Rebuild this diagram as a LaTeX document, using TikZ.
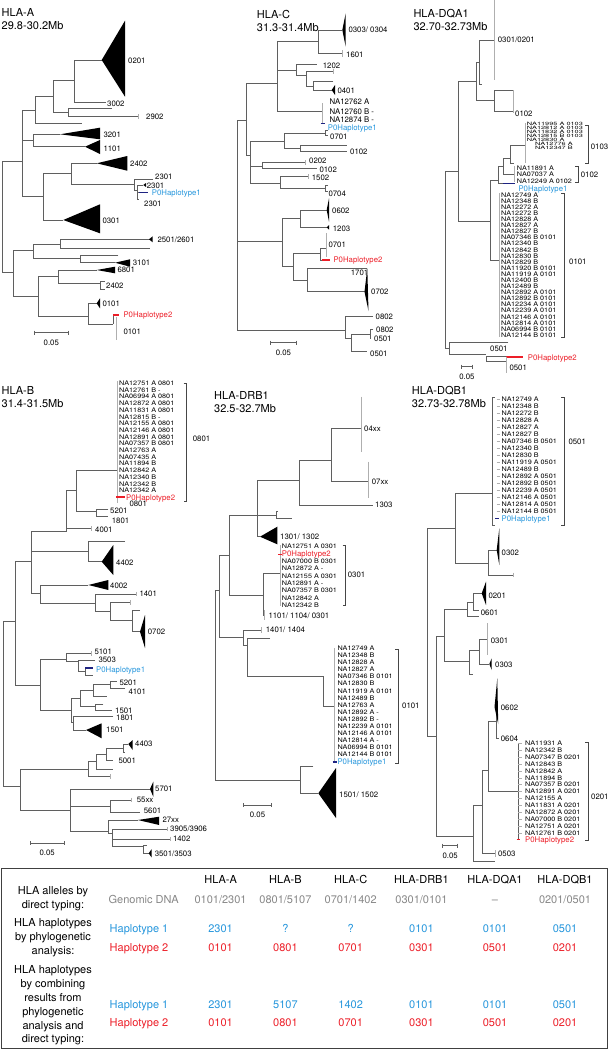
\documentclass[tikz,border=0pt]{standalone}
\usepackage{fontspec}
\setmainfont{TeX Gyre Heros}
\newfontfamily\lstfam[FakeStretch=1.15]{TeX Gyre Heros}
\newfontfamily\sqfam[FakeStretch=1.6]{TeX Gyre Heros}

\definecolor{treegray}{RGB}{95,95,95}
\definecolor{tickgray}{RGB}{175,175,175}
\definecolor{brackgray}{RGB}{70,70,70}
\definecolor{hapblue}{RGB}{38,150,220}
\definecolor{hapnavy}{RGB}{30,35,130}
\definecolor{hapred}{RGB}{236,30,40}
\definecolor{dnagray}{RGB}{135,135,135}

\tikzset{
  br/.style={draw=treegray, line width=0.6pt},
  tk/.style={draw=tickgray, line width=0.6pt},
  brk/.style={draw=brackgray, line width=0.5pt},
  clade/.style={fill=black},
  lbl/.style={font=\fontsize{7.8}{9}\selectfont, inner sep=0pt, anchor=west, text height=5.6pt, text depth=0pt},
  lst/.style={font=\lstfam\fontsize{6.3}{7}\selectfont, inner sep=0pt, anchor=west, text height=4.5pt, text depth=0pt},
  sq/.style={font=\sqfam\fontsize{4.6}{4}\selectfont, inner sep=0pt, anchor=west, text height=3.3pt, text depth=0pt},
  ttl/.style={font=\fontsize{11}{13}\selectfont, align=left, inner sep=0pt, anchor=north west},
  tabtxt/.style={font=\fontsize{11}{13.9}\selectfont, inner sep=0pt, text height=7.9pt, text depth=0pt},
  rowlbl/.style={font=\fontsize{11}{13.9}\selectfont, inner sep=0pt, align=center},
  bbar/.style={draw=hapnavy, line width=1.6pt},
  rbar/.style={draw=hapred, line width=1.6pt}
}

\newcommand{\cladetri}[5]{\fill[clade] (#1,#2) -- (#3,#4) -- (#3,#5) -- cycle;}
\newcommand{\listbrak}[3]{\draw[brk] ({#1-3},#2) -- (#1,#2) -- (#1,#3) -- ({#1-3},#3);}
\newcommand{\distbar}[4]{\draw[br] (#1,#3-2) -- (#1,#3+2) (#1,#3) -- (#2,#3) (#2,#3-2) -- (#2,#3+2);
  \node[lbl, anchor=center] (#4) at ({(#1+#2)/2},#3+9.5) {0.05};}

\begin{document}
\begin{tikzpicture}[x=1pt, y=-1pt]

        \useasboundingbox (0,0) rectangle (609,1050);

        \node[ttl] (aTitle) at (1.5,8) {HLA-A\\29.8-30.2Mb};

        \draw[br] (101.7,60) -| (74,102.3) -- (106,102.3);
        \cladetri{101.7}{60}{125}{20.7}{96.7}
        \node[lbl] (a0201) at (128,61) {0201};
        \node[lbl] (a3002) at (107,104) {3002};

        \draw[br] (111.7,108) -| (68.3,116.7) -- (138.3,116.7);
        \draw[tk] (138.3,114.3) -- (138.3,119.1);
        \node[lbl] (a2902) at (146,117) {2902};
        \draw[br] (74,80) -| (53.3,112.3) -- (68.3,112.3);
        \draw[br] (53.3,96.7) -| (35,123.3) -- (81.7,123.3);

        \draw[br] (60,134.3) -| (33.3,146.7) -- (85,146.7);
        \cladetri{60}{134.3}{100}{127.7}{139.3}
        \cladetri{85}{146.7}{100}{140}{154}
        \node[lbl] (a3201) at (103.3,134.3) {3201};
        \node[lbl] (a1101) at (103.3,148.3) {1101};
        \draw[br] (35,110) -| (22.7,196.7) -- (43.3,196.7);
        \draw[br] (22.7,140.5) -- (33.3,140.5);

        \draw[br] (96.7,163.3) -| (71.7,184.3) -- (134.3,184.3);
        \cladetri{96.7}{163.3}{127.3}{156}{170.7}
        \node[lbl] (a2402) at (130,163.3) {2402};
        \draw[br] (71.7,173.3) -| (43.3,220) -- (63.3,220);
        \cladetri{63.3}{220}{100}{204.3}{233.3}
        \node[lbl] (a0301) at (102.3,220.7) {0301};

        \draw[br] (153.3,179) -| (134.3,190) -- (137.7,190);
        \draw[br] (143.3,185) -| (137.7,199) -- (139.3,199);
        \cladetri{143.3}{185}{146}{183}{187}
        \draw[br] (137.7,192.3) -- (139.3,192.3);
        \draw[bbar] (139.3,192.3) -- (148.3,192.3);
        \node[lbl] (a2301a) at (155,177) {2301};
        \node[lbl] (a2301b) at (146.7,185.5) {2301};
        \node[lbl, text=hapblue] (aHap1) at (151.7,192.3) {P0Haplotype1};
        \node[lbl] (a2301c) at (144,203.3) {2301};

        \draw[br] (22.7,161.7) -| (2.7,272.7) -- (13.3,272.7);
        \draw[br] (33.3,250) -| (13.3,296) -- (38.3,296);
        \draw[br] (60,244) -| (33.3,258.3) -- (80,258.3);
        \draw[br] (150,239.3) -| (60,248.3) -- (150,248.3);
        \cladetri{149}{239.3}{152.7}{236.3}{242.3}
        \node[lbl] (a2501) at (157.3,240) {2501/2601};
        \draw[br] (118.3,255) -| (80,262.7) -- (115,262.7);
        \cladetri{115}{262.7}{130}{259.3}{266.7}
        \node[lbl] (a3101) at (132.7,262.7) {3101};

        \draw[br] (58.3,276) -| (38.3,316.7) -- (88.3,316.7);
        \draw[br] (96.7,270) -| (58.3,283.3) -- (100,283.3);
        \cladetri{96.7}{270}{115}{266.7}{273.3}
        \node[lbl] (a6801) at (117.3,270) {6801};
        \draw[br] (105,281.7) -| (100,289.3) -- (105,289.3);
        \node[lbl] (a2402b) at (106,286) {2402};
        \draw[br] (96.7,303.3) -| (88.3,324) -- (113.3,324);
        \cladetri{96.7}{303.3}{100}{298.3}{308.3}
        \node[lbl] (a0101) at (102.3,303.3) {0101};
        \draw[br] (113.3,315) -- (113.3,324);
        \draw[rbar] (113.3,315) -- (119.3,315);
        \draw[tk] (116.7,316.7) -- (116.7,340);
        \node[lbl, text=hapred] (aHap2) at (123.3,315) {P0Haplotype2};
        \node[lbl] (a0101b) at (123.3,331.7) {0101};

        \distbar{34.3}{68.3}{332.7}{aScale}

        \node[ttl] (cTitle) at (256.7,10) {HLA-C\\31.3-31.4Mb};

        \draw[br] (342.3,30) -| (318.3,53.3) -- (342.7,53.3);
        \cladetri{342.3}{30}{345.7}{13.3}{46.7}
        \draw[tk] (342.7,50) -- (342.7,57);
        \node[lbl] (c0303) at (348.3,30) {0303/ 0304};
        \node[lbl] (c1601) at (346,54.3) {1601};
        \draw[br] (316.7,64.3) -| (296.7,75) -- (306,75);
        \node[lbl] (c1202) at (322.7,65.7) {1202};
        \draw[br] (333.3,71.7) -| (306,86) -- (313.3,86);
        \draw[tk] (333.3,69.3) -- (333.3,74.1);
        \draw[br] (333.3,81.7) -| (313.3,90) -- (331.7,90);
        \cladetri{331.7}{90}{335}{85}{95}
        \node[lbl] (c0401) at (337.3,91) {0401};

        \draw[br] (318.3,41.7) -| (277.3,111.7) -- (322.7,111.7);
        \draw[br] (277.3,70) -- (296.7,70);
        \draw[tk] (322.7,103.3) -- (322.7,123.3);
        \draw[bbar] (320.7,123.3) -- (325,123.3);
        \node[lbl] (cNA1) at (329.3,101.7) {NA12762 A};
        \node[lbl] (cNA2) at (329.3,111.2) {NA12760 B -};
        \node[lbl] (cNA3) at (329.3,119.7) {NA12874 B -};
        \node[lbl, text=hapblue] (cHap1) at (327.7,127.2) {P0Haplotype1};

        \draw[br] (277.3,83.3) -| (246.7,155) -- (250,155);
        \draw[br] (284,141.7) -| (250,183.3) -- (280,183.3);
        \draw[br] (250,166.7) -- (262.7,166.7);
        \draw[br] (325,133) -| (284,148) -- (300,148);
        \draw[br] (328,130.3) -| (325,135.7) -- (328,135.7);
        \node[lbl] (c0701) at (330,136.7) {0701};
        \draw[br] (346.7,145) -| (300,151.7) -- (346.7,151.7);
        \node[lbl] (c0102) at (350,151.7) {0102};
        \draw[br] (305,162.7) -| (262.7,168.3) -- (316.7,168.3);
        \draw[tk] (305,160.3) -- (305,165.1);
        \node[lbl] (c0202) at (309,160.5) {0202};
        \node[lbl] (c0102b) at (319.3,170) {0102};
        \draw[br] (308.3,176.7) -| (280,188.3) -- (325,188.3);
        \draw[tk] (308.3,174.3) -- (308.3,179.1);
        \draw[br] (328,185.3) -| (325,191.3) -- (328,191.3);
        \node[lbl] (c1502) at (311.7,177.7) {1502};
        \node[lbl] (c0704) at (328.3,193.3) {0704};

        \draw[br] (237.3,241.7) -- (282.7,241.7);
        \draw[br] (300,218.3) -| (282.7,266.7) -- (293.3,266.7);
        \draw[br] (326.7,210) -| (300,227.3) -- (326.7,227.3);
        \cladetri{326.7}{210}{329}{198.3}{221.7}
        \cladetri{326.7}{227.3}{329}{225}{229.7}
        \node[lbl] (c0602) at (332,210.7) {0602};
        \node[lbl] (c1203) at (332.7,228.3) {1203};
        \draw[br] (320.7,253.3) -| (293.3,280) -- (307.3,280);
        \draw[br] (326,248) -| (320.7,260) -- (321.7,260);
        \draw[tk] (326,233) -- (326,257);
        \draw[rbar] (321.7,260) -- (330,260);
        \node[lbl] (c0701b) at (328.3,245) {0701};
        \node[lbl, text=hapred] (cHap2) at (333.3,260) {P0Haplotype2};
        \draw[br] (366.7,268.3) -| (307.3,291.7) -- (364.5,291.7);
        \fill[clade] (364.5,291.7) -- (367.3,268.3) -- (368.5,311) -- cycle;
        \node[lbl] (c1701) at (350.7,273) {1701};
        \node[lbl] (c0702) at (371,291.7) {0702};

        \draw[br] (246.7,120) -| (237.3,330) -- (345,330);
        \draw[br] (373,316.7) -| (345,338) -- (351.7,338);
        \node[lbl] (c0802) at (375.5,316.7) {0802};
        \draw[br] (370,333.8) -| (351.7,351.7) -- (366.7,351.7);
        \draw[br] (373,329.3) -| (370,338.3) -- (371,338.3);
        \node[lbl] (c0802b) at (376,329.3) {0802};
        \node[lbl] (c0501) at (374,338.3) {0501};
        \node[lbl] (c0501b) at (370,354) {0501};

        \distbar{270}{296.7}{342.7}{cScale}

        \node[ttl] (qTitle) at (413.3,9.5) {HLA-DQA1\\32.70-32.73Mb};

        \draw[tk] (494.3,0) -- (494.3,80);
        \draw[br] (494.3,40) -| (479.3,84.3) -- (481.7,84.3);
        \node[lbl] (q0301) at (497.7,40) {0301/0201};
        \draw[br] (479.3,62) -| (476,100) -- (494.3,100);
        \draw[br] (513.3,90) -| (494.3,111.7) -- (513.3,111.7);
        \draw[tk] (513.3,90) -- (513.3,113.3);
        \node[lbl] (q0102) at (515,113.3) {0102};
        \draw[br] (476,81.7) -| (458.3,221.7) -- (490.7,221.7);
        \draw[br] (498.3,180) -| (490.7,260) -- (499.3,260);
        \draw[br] (503.3,166) -| (498.3,183.3) -- (503.3,183.3);
        \draw[bbar] (503.3,183.3) -- (515,183.3);
        \draw[br] (510,158) -| (503.3,174.7) -- (514,174.7);
        \draw[br] (525,145) -| (510,163.3) -- (514,163.3);
        \draw[tk] (525,123.3) -- (525,163.3);
        \draw[tk] (514,166) -- (514,182);

        \foreach \x/\t [count=\i] in {526.7/NA11995 A 0103, 526.7/NA12812 A 0103, 526.7/NA11832 A 0103,
            526.7/NA12815 B 0103, 526.7/NA12830 A, 535/NA12776 A, 535/NA12347 B}
          \node[sq] (q3L\i) at (\x,{124.3+4*(\i-1)}) {\t};
        \listbrak{588.3}{125}{163.3}
        \node[lbl] (q0103) at (590.7,146.7) {0103};

        \foreach \t [count=\i] in {NA11891 A, NA07037 A, NA12249 A 0102}
          \node[lst] (q2L\i) at (516.7,{168.3+6.3*(\i-1)}) {\t};
        \listbrak{578.3}{166.7}{182.7}
        \node[lbl] (q0102b) at (580.7,175) {0102};
        \node[lbl, text=hapblue] (qHap1) at (518.3,189) {P0Haplotype1};

        \draw[tk] (499.3,193) -- (499.3,337);
        \foreach \t [count=\i] in {NA12749 A, NA12348 B, NA12272 A, NA12272 B, NA12828 A, NA12827 A,
            NA12827 B, NA07346 B 0101, NA12340 B, NA12842 B, NA12830 B, NA12829 B, NA11920 B 0101,
            NA11919 A 0101, NA12400 B, NA12489 B, NA12892 A 0101, NA12892 B 0101, NA12234 A 0101,
            NA12239 A 0101, NA12146 A 0101, NA12814 A 0101, NA06994 B 0101, NA12144 B 0101}
          \node[lst] (q1L\i) at (501,{195+6.09*(\i-1)}) {\t};
        \listbrak{564}{193}{337}
        \node[lbl] (q0101) at (569,261.7) {0101};

        \draw[br] (458.3,171.7) -| (445,348) -- (449.3,348);
        \draw[br] (508.3,342.7) -| (449.3,354.3) -- (486,354.3);
        \node[lbl] (q0501) at (490,349) {0501};
        \draw[br] (506,356.7) -| (486,361.7) -- (506,361.7);
        \draw[rbar] (506,356.7) -- (523.3,356.7);
        \draw[tk] (506,356.7) -- (506,373.3);
        \node[lbl, text=hapred] (qHap2) at (527.7,357.5) {P0Haplotype2};
        \node[lbl] (q0501b) at (509.3,367.7) {0501};

        \distbar{461}{472.7}{366.7}{qScale}

        \node[ttl] (bTitle) at (1.5,386.5) {HLA-B\\31.4-31.5Mb};

        \draw[tk] (117.3,381) -- (117.3,503);
        \foreach \t [count=\i] in {NA12751 A 0801, NA12761 B -, NA06994 A 0801, NA12872 A 0801,
            NA11831 A 0801, NA12815 B -, NA12155 A 0801, NA12146 A 0801, NA12891 A 0801,
            NA07357 B 0801, NA12763 A, NA07435 A, NA11894 B, NA12842 A, NA12340 B, NA12342 B, NA12342 A}
          \node[lst] (bL\i) at (119,{383.3+6.7*(\i-1)}) {\t};
        \draw[rbar] (116,496.7) -- (125,496.7);
        \node[lbl, text=hapred] (bHap2) at (126,497.3) {P0Haplotype2};
        \node[lbl] (b0801b) at (129.3,503.8) {0801};
        \listbrak{186.7}{383}{501.7}
        \node[lbl] (b0801) at (192.7,439) {0801};

        \draw[br] (117.3,470) -| (76,511.7) -- (96.7,511.7);
        \draw[br] (108.3,509.3) -| (96.7,516.7) -- (108.3,516.7);
        \node[lbl] (b5201) at (110,510.5) {5201};
        \node[lbl] (b1801) at (111.7,520.5) {1801};
        \draw[br] (76,490.7) -| (66.7,531.7);
        \draw[br] (66.7,528.3) -- (91.7,528.3);
        \draw[tk] (91.7,526) -- (91.7,530.6);
        \node[lbl] (b4001) at (95,530) {4001};
        \draw[br] (66.7,531.7) -| (31,593.3) -- (40,593.3);
        \draw[br] (31,551.7) -- (88.3,551.7);
        \draw[br] (125,541.7) -| (88.3,561.7) -- (101.7,561.7);
        \cladetri{101.7}{561.7}{113.3}{545}{575}
        \node[lbl] (b4402) at (116,562.3) {4402};

        \draw[br] (88.3,585) -| (40,603.3) -- (95,603.3);
        \cladetri{88.3}{585}{108.3}{580}{590}
        \node[lbl] (b4002) at (110,586) {4002};
        \draw[br] (136,594) -| (95,611.7) -- (110,611.7);
        \draw[tk] (136,591.6) -- (136,596.4);
        \node[lbl] (b1401) at (139.3,594) {1401};
        \draw[br] (130,602.3) -| (110,620.7) -- (132.7,620.7);
        \draw[tk] (130,600) -- (130,604.6);
        \draw[br] (140,610) -| (132.7,631.7) -- (140,631.7);
        \fill[clade] (140,631.7) -- (145,615) -- (145,648) -- cycle;
        \node[lbl] (b0702) at (147.7,631.7) {0702};

        \draw[br] (31,561.7) -| (15,685) -- (40,685);
        \draw[br] (66.7,659.3) -| (40,710) -- (71.7,710);
        \draw[br] (91.7,653.3) -| (66.7,661.7) -- (78.3,661.7);
        \draw[tk] (91.7,651) -- (91.7,655.6);
        \node[lbl] (b5101) at (94.3,651.5) {5101};
        \draw[br] (95,660) -| (78.3,671.7) -- (85,671.7);
        \node[lbl] (b3503) at (98.3,659.5) {3503};
        \draw[br] (85,667.7) -- (85,675) -- (92.7,675);
        \draw[bbar] (85,667.7) -- (93.3,667.7);
        \node[lbl, text=hapblue] (bHap1) at (96,670) {P0Haplotype1};

        \draw[br] (80.7,698) -| (71.7,722.7) -- (73.3,722.7);
        \draw[br] (93.3,690) -| (80.7,706.7) -- (95,706.7);
        \draw[br] (110,684) -| (93.3,696.7) -- (106.7,696.7);
        \draw[br] (116.7,681.7) -| (110,688) -- (125,688);
        \node[lbl] (b5201b) at (119.3,682.5) {5201};
        \node[lbl] (b4101) at (128.3,691.5) {4101};
        \draw[br] (103.3,704) -| (95,710) -- (111.7,710);
        \node[lbl] (b1501) at (115,710.5) {1501};
        \draw[br] (113.3,716.7) -| (73.3,730) -- (86,730);
        \cladetri{86}{730}{101.7}{723.3}{738.3}
        \node[lbl] (b1801b) at (116,717.5) {1801};
        \node[lbl] (b1501b) at (106,729.5) {1501};

        \draw[br] (15,621.7) -| (3.3,786.7) -- (20.7,786.7);
        \draw[br] (88.3,769.3) -| (20.7,810) -- (70,810);
        \draw[br] (96.7,761.7) -| (88.3,776.7) -- (110,776.7);
        \draw[tk] (110,774.3) -- (110,779.1);
        \draw[br] (106,754.3) -| (96.7,769.3) -- (112.7,769.3);
        \draw[br] (123.3,748.3) -| (106,760.7) -- (113.3,760.7);
        \node[lbl] (b5001) at (118.3,761) {5001};
        \draw[br] (128.3,744) -| (123.3,752.7) -- (125,752.7);
        \cladetri{128.3}{744}{132.7}{740}{750}
        \node[lbl] (b4403) at (135,744) {4403};

        \draw[br] (150,789) -| (70,831) -- (108,831);
        \cladetri{150}{789}{153.3}{781.7}{796.7}
        \node[lbl] (b5701) at (155,788.5) {5701};
        \draw[br] (70,806) -- (110,806);
        \draw[br] (131.7,800) -| (110,812.3) -- (139.8,812.3);
        \draw[tk] (131.7,797.6) -- (131.7,802.4);
        \node[lbl] (b55xx) at (136.7,799.5) {55xx};
        \node[lbl] (b5601) at (143.7,810.5) {5601};
        \draw[br] (137.9,820) -| (108,833.3) -- (112.6,833.3);
        \cladetri{137.9}{820}{159.2}{816.7}{825}
        \node[lbl] (b27xx) at (162.3,819.5) {27xx};
        \draw[br] (167,829) -| (112.6,846) -- (143.7,846);
        \draw[br] (112.6,839) -- (170,839);
        \draw[tk] (167,826.6) -- (167,831.4);
        \draw[tk] (170,836.6) -- (170,841.4);
        \node[lbl] (b3905) at (170,829) {3905/3906};
        \node[lbl] (b1402) at (172.8,839) {1402};
        \draw[br] (146.7,845.7) -| (143.7,853.3) -- (148.7,853.3);
        \cladetri{148.7}{853.3}{151.5}{849.3}{857.3}
        \node[lbl] (b3501) at (154.6,853.5) {3501/3503};

        \distbar{30.3}{64}{843.3}{bScale}

        \node[ttl] (dTitle) at (214,391) {HLA-DRB1\\32.5-32.7Mb};

        \draw[tk] (361,396.7) -- (361,451.7);
        \draw[tk] (368.3,461.7) -- (368.3,498.3);
        \draw[br] (361,428.3) -| (331.7,481) -- (368.3,481);
        \node[lbl] (d04xx) at (364,428.3) {04xx};
        \node[lbl] (d07xx) at (371.7,481.7) {07xx};
        \draw[br] (331.7,460) -| (299,505) -- (372.7,505);
        \node[lbl] (d1303) at (375,505) {1303};
        \draw[br] (299,480) -| (257.3,536.7) -- (260,536.7);
        \cladetri{260}{536.7}{277.3}{526.7}{544.3}
        \node[lbl] (d1301) at (280,536.7) {1301/ 1302};
        \draw[br] (257.3,515) -- (276.7,515);
        \draw[br] (278,511.7) -| (276.7,518.3) -- (291.7,518.3);

        \draw[br] (257.3,515) -| (229.3,595) -- (263.3,595);
        \draw[br] (280,573.3) -| (263.3,615) -- (264.5,615);
        \draw[tk] (264.5,610) -- (264.5,620);
        \node[lbl] (d1101) at (268.3,615.7) {1101/ 1104/ 0301};
        \draw[tk] (280,545) -- (280,606);
        \foreach \n/\t in {1/NA12751 A 0301, 3/NA07000 B 0301, 4/NA12872 A -, 5/NA12155 A 0301,
            6/NA12891 A -, 7/NA07357 B 0301, 8/NA12842 A, 9/NA12342 B}
          \node[lst] (d3L\n) at (281.7,{546.7+7.3*(\n-1)}) {\t};
        \node[lbl, text=hapred] (dHap2) at (281.7,554) {P0Haplotype2};
        \draw[rbar] (278.3,554.3) -- (281.5,554.3);
        \listbrak{345.7}{545}{605}
        \node[lbl] (d0301) at (347.7,575) {0301};

        \draw[br] (229.3,555) -| (219.3,637.5) -- (243.3,637.5);
        \draw[br] (261.7,630) -| (243.3,645) -- (247.7,645);
        \draw[tk] (261.7,627) -- (261.7,633);
        \node[lbl] (d1401) at (265.7,630) {1401/ 1404};
        \draw[br] (270,638.3) -| (247.7,676.7) -| (323.3,706.7) -- (334.3,706.7);
        \draw[tk] (334.3,648) -- (334.3,762);
        \foreach \t [count=\i] in {NA12749 A, NA12348 B, NA12828 A, NA12827 A, NA07346 B 0101,
            NA12830 B, NA11919 A 0101, NA12489 B, NA12763 A, NA12892 A -, NA12892 B -, NA12239 A 0101,
            NA12146 A 0101, NA12814 A -, NA06994 B 0101, NA12144 B 0101}
          \node[lst] (d1L\i) at (337.3,{648.3+7.08*(\i-1)}) {\t};
        \draw[bbar] (332.5,761.7) -- (336.5,761.7);
        \node[lbl, text=hapblue] (dHap1) at (337.3,761.7) {P0Haplotype1};
        \listbrak{398.3}{649}{763}
        \node[lbl] (d0101) at (402,706) {0101};

        \draw[br] (219.3,590) -| (215,780) -- (300,780);
        \draw[br] (313.3,766.7) -| (300,793.3) -- (318.3,793.3);
        \cladetri{318.3}{793.3}{336}{768}{818}
        \node[lbl] (d1501) at (339,795) {1501/ 1502};

        \distbar{243.3}{271.7}{805}{dScale}

        \node[ttl] (eTitle) at (411.7,386.5) {HLA-DQB1\\32.73-32.78Mb};

        \foreach \t [count=\i] in {NA12749 A, NA12348 B, NA12272 B, NA12828 A, NA12827 A, NA12827 B,
            NA07346 B 0501, NA12340 B, NA12830 B, NA11919 A 0501, NA12489 B, NA12892 A 0501,
            NA12892 B 0501, NA12239 A 0501, NA12146 A 0501, NA12814 A 0501, NA12144 B 0501}
          {\node[lst] (e5L\i) at (501.5,{399.3+7*(\i-1)}) {\t};
           \draw[tk] (496.7,{399.3+7*(\i-1)}) -- (499.5,{399.3+7*(\i-1)});}
        \draw[br] (494.5,397.3) -- (492.3,397.3) -- (492.3,525) -- (494.5,525);
        \draw[bbar] (495,518.3) -- (499,518.3);
        \node[lbl, text=hapblue] (eHap1) at (501.5,519) {P0Haplotype1};
        \listbrak{564.3}{397.3}{525}
        \node[lbl] (e0501) at (568.3,441.7) {0501};

        \draw[br] (492.3,493.3) -| (455,563.3) -- (488.3,563.3);
        \draw[br] (496.7,550) -| (488.3,575) -- (513.3,575);
        \fill[clade] (496.7,550) -- (499.3,528.3) -- (499.3,565) -- cycle;
        \draw[tk] (513.3,572.6) -- (513.3,577.4);
        \node[lbl] (e0302) at (501.5,552.3) {0302};

        \draw[br] (455,528.3) -| (427.3,736.7) -- (436.7,736.7);
        \draw[br] (444.3,636.7) -| (436.7,836.7) -- (473,836.7);
        \draw[br] (467.7,609.3) -| (444.3,661.7) -- (469,661.7);
        \draw[br] (473.3,602.7) -| (467.7,616.7) -- (479.3,616.7);
        \draw[br] (481.7,593.3) -| (473.3,610) -- (479.3,610);
        \cladetri{481.7}{593.3}{486}{581.7}{605}
        \node[lbl] (e0201) at (488.3,596) {0201};
        \node[lbl] (e0601) at (480.7,613) {0601};
        \draw[br] (479.3,650) -| (469,674) -- (473.3,674);
        \draw[br] (487.3,639.3) -| (479.3,664) -- (489.3,664);
        \draw[tk] (487.3,623.3) -- (487.3,655);
        \cladetri{489.3}{664}{491.7}{658.3}{670}
        \node[lbl] (e0301) at (490.7,640.7) {0301};
        \node[lbl] (e0303) at (495,665) {0303};

        \draw[br] (482.7,805) -| (473,861.7) -- (495,861.7);
        \draw[br] (488.3,770) -| (482.7,853.3) -- (495,853.3);
        \draw[tk] (495,850) -- (495,857);
        \node[lbl] (e0503) at (497.9,853.3) {0503};
        \draw[br] (496.7,721.7) -| (488.3,791.7) -- (518.3,791.7);
        \draw[br] (496.7,707) -- (496.7,738.3) -- (499,738.3);
        \fill[clade] (494.5,707) -- (497.3,678.3) -- (498.2,724) -- cycle;
        \node[lbl] (e0602) at (500.7,707.7) {0602};
        \node[lbl] (e0604) at (500.7,738.8) {0604};

        \draw[br] (518.3,743.3) -- (518.3,840);
        \foreach \t [count=\i] in {NA11931 A, NA12342 B, NA07347 B 0201, NA12843 B, NA12842 A,
            NA11894 B, NA07357 B 0201, NA12891 A 0201, NA12155 A, NA11831 A 0201, NA12872 A 0201,
            NA07000 B 0201, NA12751 A 0201, NA12761 B 0201}
          {\node[lst] (e2L\i) at (525,{743.3+6.9*(\i-1)}) {\t};
           \draw[tk] (518.3,{743.3+6.9*(\i-1)}) -- (521.5,{743.3+6.9*(\i-1)});}
        \draw[rbar] (516.5,839.5) -- (520.4,839.5);
        \node[lbl, text=hapred] (eHap2) at (525,840) {P0Haplotype2};
        \listbrak{588.3}{742.7}{840}
        \node[lbl] (e0201b) at (591,797) {0201};

        \distbar{442.7}{457.5}{845.7}{eScale}

        \draw[draw=black!75, line width=0.9pt] (1.5,868) rectangle (607.5,1048.5);

        \node[rowlbl] (rowA) at (53,898.8) {HLA alleles by\\direct typing:};
        \node[rowlbl] (rowB) at (53,938) {HLA haplotypes\\by phylogenetic\\analysis:};
        \node[rowlbl] (rowC) at (53,1005.4) {HLA haplotypes\\by combining\\results from\\phylogenetic\\analysis and\\direct typing:};

        \node[tabtxt, text=dnagray] (gDNA) at (143.7,899.3) {Genomic DNA};
        \node[tabtxt, text=hapblue] (hapB1) at (139,929) {Haplotype 1};
        \node[tabtxt, text=hapred] (hapB2) at (139,947.7) {Haplotype 2};
        \node[tabtxt, text=hapblue] (hapC1) at (139,1004.3) {Haplotype 1};
        \node[tabtxt, text=hapred] (hapC2) at (139,1022.3) {Haplotype 2};

        \foreach \x/\h/\g/\pa/\pb/\ca/\cb [count=\i] in {
            220.6/HLA-A/0101\slash2301/2301/0101/2301/0101,
            285.4/HLA-B/0801\slash5107/?/0801/5107/0801,
            350.7/HLA-C/0701\slash1402/?/0701/1402/0701,
            421.4/HLA-DRB1/0301\slash0101/0101/0301/0101/0301,
            495/HLA-DQA1/\textendash/0101/0501/0101/0501,
            565/HLA-DQB1/0201\slash0501/0501/0201/0501/0201}
          {\node[tabtxt] (hd\i) at (\x,880) {\h};
           \node[tabtxt, text=dnagray] (gd\i) at (\x,899.3) {\g};
           \node[tabtxt, text=hapblue] (pa\i) at (\x,929) {\pa};
           \node[tabtxt, text=hapred] (pb\i) at (\x,947.7) {\pb};
           \node[tabtxt, text=hapblue] (ca\i) at (\x,1004.3) {\ca};
           \node[tabtxt, text=hapred] (cb\i) at (\x,1022.3) {\cb};}

\end{tikzpicture}
\end{document}
